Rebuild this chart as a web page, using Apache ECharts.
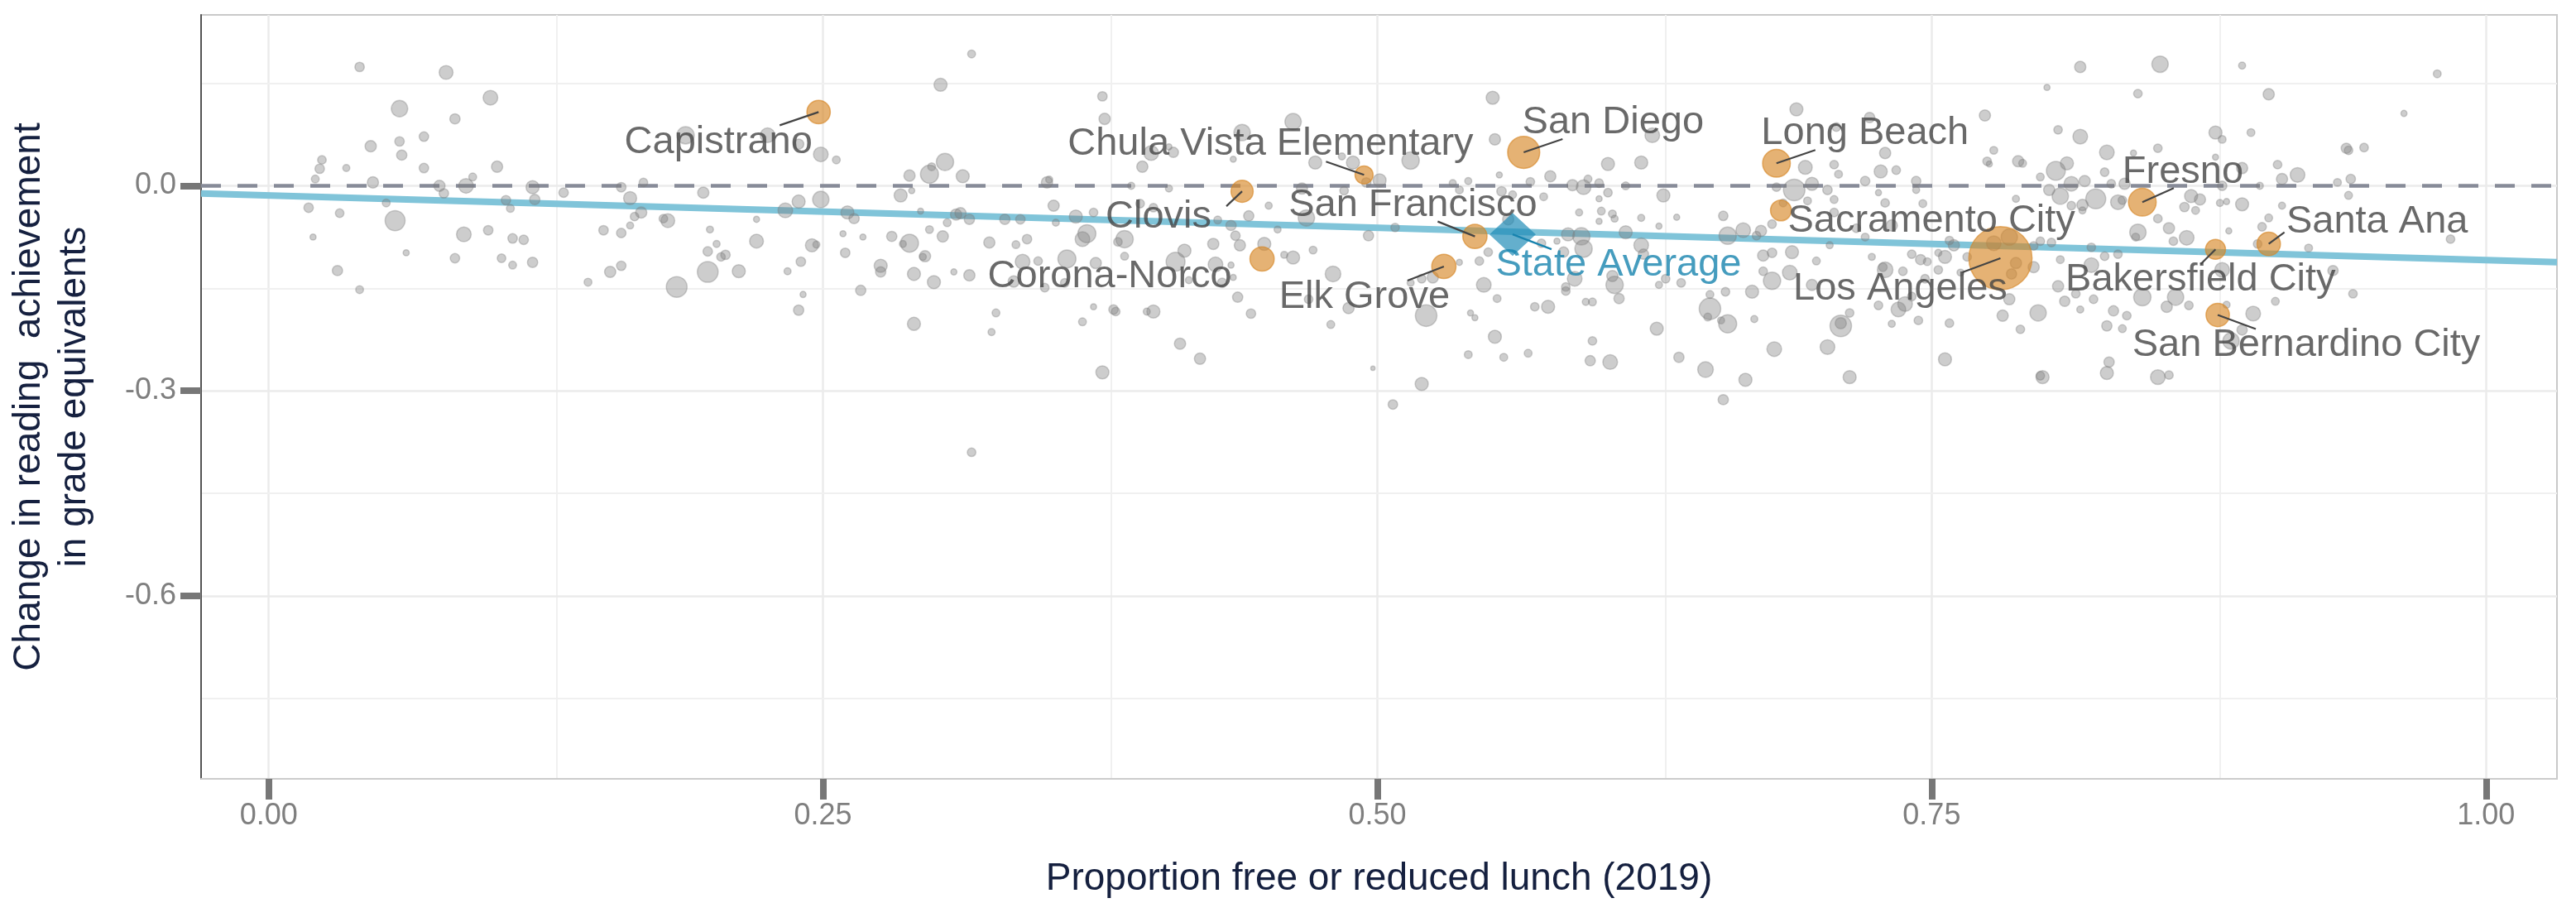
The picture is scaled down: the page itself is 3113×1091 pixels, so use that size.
<!DOCTYPE html>
<html lang="en">

<head>
    <meta charset="UTF-8">
    <title>Reading change vs free lunch</title>
    <script src="https://cdn.jsdelivr.net/npm/echarts@6.0.0/dist/echarts.min.js"></script>
    <style>
        body { margin: 0; background: #fff; }
    </style>
</head>

<body>
    <div id="main" style="width:3113px; height:1091px;"></div>
    <script type="text/javascript">
        var myChart = echarts.init(document.getElementById('main'));

        var font = 'Liberation Sans, Arial, sans-serif';

        // axis ticks and gridlines
        var xTicks = [0, 0.25, 0.5, 0.75, 1];
        var xMinor = [0.125, 0.375, 0.625, 0.875];
        var yTicks = [-0.6, -0.3, 0];
        var yMinor = [-0.75, -0.45, -0.15, 0.15];

        // fitted line, read at the panel edges
        var fitLine = [[-0.0305, -0.0113], [1.032, -0.1116]];

        // state average
        var stateAvg = [0.561, -0.071];

        // highlighted districts: name, free lunch share, change, enrollment (thousands)
        var named = [
            ['Capistrano', 0.248, 0.108, 67],
            ['Chula Vista Elementary', 0.494, 0.016, 40],
            ['Clovis', 0.439, -0.008, 60],
            ['San Francisco', 0.544, -0.074, 72],
            ['Corona-Norco', 0.448, -0.107, 72],
            ['Elk Grove', 0.530, -0.118, 72],
            ['San Diego', 0.566, 0.049, 126],
            ['Long Beach', 0.680, 0.033, 94],
            ['Sacramento City', 0.682, -0.036, 53],
            ['Los Angeles', 0.781, -0.106, 490],
            ['Fresno', 0.845, -0.024, 94],
            ['Santa Ana', 0.902, -0.085, 67],
            ['Bakersfield City', 0.878, -0.093, 49],
            ['San Bernardino City', 0.879, -0.189, 67]
        ];

        // all other districts: [free lunch share, change, enrollment (thousands)]
        var others = [
            [0.041,0.174,11],[0.080,0.166,23.5],[0.059,0.113,33],[0.100,0.129,26.5],[0.084,0.098,13],[0.046,0.058,15.5],[0.059,0.065,11],[0.060,0.045,13],[0.070,0.072,11],[0.024,0.038,9],[0.023,0.025,11],[0.035,0.026,6],[0.021,0.010,7.5],[0.070,0.026,11],[0.103,0.028,15.5],[0.047,0.005,15.5],[0.077,0.000,15.5],[0.079,-0.011,11],[0.089,0.000,26.5],[0.092,0.013,7.5],[0.119,-0.002,21],[0.120,-0.020,13],[0.107,-0.021,11],[0.109,-0.033,7.5],[0.133,-0.010,11],[0.018,-0.032,11],[0.032,-0.040,9],[0.053,-0.025,7.5],[0.057,-0.051,49],[0.020,-0.075,4.5],[0.088,-0.071,26.5],[0.099,-0.065,11],[0.110,-0.077,11],[0.115,-0.079,11],[0.062,-0.098,4.5],[0.084,-0.106,11],[0.105,-0.106,9],[0.110,-0.116,7.5],[0.119,-0.112,13],[0.031,-0.124,13],[0.041,-0.152,7.5],[0.151,-0.065,11],[0.159,-0.069,11],[0.163,-0.058,6],[0.165,-0.045,9],[0.159,-0.002,11],[0.163,-0.018,21],[0.154,-0.126,15.5],[0.159,-0.117,11],[0.144,-0.141,7.5],[0.169,0.005,9],[0.168,-0.039,15.5],
            [0.317,0.193,7.5],[0.303,0.148,21],[0.188,0.074,37],[0.225,0.074,26.5],[0.249,0.046,26.5],[0.256,0.038,7.5],[0.239,0.061,13],[0.196,-0.010,15.5],[0.239,-0.023,21],[0.249,-0.020,33],[0.233,-0.036,26.5],[0.180,-0.051,23.5],[0.178,-0.048,9],[0.220,-0.049,4.5],[0.199,-0.064,6],[0.202,-0.085,6],[0.220,-0.081,23.5],[0.198,-0.096,11],[0.204,-0.104,9],[0.206,-0.101,11],[0.198,-0.126,53],[0.212,-0.125,21],[0.184,-0.148,53],[0.245,-0.087,21],[0.247,-0.086,6],[0.240,-0.111,11],[0.234,-0.125,6],[0.241,-0.159,4.5],[0.239,-0.182,13],[0.261,-0.039,21],[0.264,-0.048,13],[0.259,-0.070,4.5],[0.268,-0.075,4.5],[0.260,-0.098,11],[0.267,-0.153,13],[0.289,0.015,15.5],[0.298,0.017,40],[0.305,0.035,37],[0.299,0.028,7.5],[0.313,0.014,21],[0.285,-0.014,21],[0.290,-0.007,4.5],[0.294,-0.037,4.5],[0.298,-0.064,7.5],[0.306,-0.054,7.5],[0.304,-0.074,15.5],[0.310,-0.042,15.5],[0.312,-0.040,15.5],[0.316,-0.049,13],[0.281,-0.074,13],[0.289,-0.084,40],[0.286,-0.085,6],[0.296,-0.103,15.5],[0.295,-0.104,6],[0.276,-0.117,21],[0.276,-0.126,13],[0.291,-0.129,21],[0.300,-0.141,21],[0.309,-0.126,4.5],[0.316,-0.131,15.5],[0.291,-0.202,21],[0.325,-0.083,15.5],[0.328,-0.186,7.5],[0.326,-0.214,6],[0.317,-0.390,9],[0.332,-0.049,13],
            [0.376,0.131,11],[0.377,0.098,15.5],[0.462,0.094,33],[0.439,0.078,33],[0.398,0.048,26.5],[0.408,0.049,13],[0.406,0.057,4.5],[0.394,0.028,15.5],[0.435,0.039,4.5],[0.472,0.034,21],[0.489,0.034,21],[0.484,0.043,6],[0.351,0.005,15.5],[0.352,0.009,6],[0.389,0.000,6],[0.406,-0.004,6],[0.466,-0.004,15.5],[0.485,-0.007,9],[0.495,0.005,11],[0.354,-0.029,15.5],[0.372,-0.039,9],[0.364,-0.045,21],[0.339,-0.049,11],[0.355,-0.054,6],[0.393,-0.026,9],[0.399,-0.032,9],[0.451,-0.029,6],[0.442,-0.044,13],[0.428,-0.050,7.5],[0.434,-0.058,13],[0.455,-0.064,6],[0.468,-0.047,33],[0.496,-0.073,13],[0.342,-0.078,11],[0.337,-0.086,7.5],[0.369,-0.070,40],[0.367,-0.078,26.5],[0.386,-0.078,37],[0.383,-0.082,9],[0.426,-0.085,15.5],[0.436,-0.073,11],[0.438,-0.087,15.5],[0.449,-0.085,21],[0.458,-0.101,6],[0.462,-0.105,21],[0.471,-0.094,7.5],[0.360,-0.107,40],[0.340,-0.111,26.5],[0.347,-0.110,9],[0.373,-0.113,15.5],[0.386,-0.103,7.5],[0.409,-0.111,44],[0.413,-0.095,21],[0.427,-0.115,26.5],[0.434,-0.116,4.5],[0.480,-0.129,30],[0.350,-0.149,9],[0.336,-0.140,15.5],[0.359,-0.142,9],[0.430,-0.142,11],[0.435,-0.134,4.5],[0.415,-0.138,6],[0.437,-0.163,13],[0.443,-0.187,11],[0.372,-0.177,4.5],[0.381,-0.181,11],[0.382,-0.184,9],[0.399,-0.184,21],[0.396,-0.184,6],[0.367,-0.199,7.5],[0.479,-0.203,7.5],[0.487,-0.179,15.5],[0.469,-0.166,9],[0.411,-0.231,15.5],[0.420,-0.253,15.5],[0.376,-0.273,21],[0.498,-0.267,2.3],
            [0.552,0.129,21],[0.553,0.068,15.5],[0.515,0.037,37],[0.604,0.032,21],[0.619,0.034,21],[0.624,0.074,26.5],[0.555,0.016,4.5],[0.578,0.014,15.5],[0.569,0.006,9],[0.501,0.008,21],[0.534,0.004,6],[0.541,0.007,6],[0.537,-0.006,7.5],[0.556,-0.008,11],[0.561,-0.013,7.5],[0.575,-0.016,7.5],[0.588,0.001,15.5],[0.593,-0.002,26.5],[0.595,0.010,7.5],[0.600,0.004,9],[0.604,-0.010,9],[0.600,-0.019,4.5],[0.612,0.000,7.5],[0.629,-0.014,21],[0.591,-0.039,6],[0.601,-0.037,7.5],[0.606,-0.041,7.5],[0.607,-0.048,6],[0.600,-0.052,4.5],[0.619,-0.047,6],[0.635,-0.046,4.5],[0.627,-0.059,4.5],[0.656,-0.044,11],[0.508,-0.061,9],[0.559,-0.049,15.5],[0.586,-0.071,21],[0.592,-0.074,37],[0.593,-0.092,37],[0.612,-0.068,21],[0.619,-0.087,26.5],[0.620,-0.100,13],[0.658,-0.073,37],[0.581,-0.081,4.5],[0.574,-0.084,9],[0.550,-0.097,9],[0.546,-0.110,9],[0.584,-0.097,13],[0.537,-0.112,4.5],[0.525,-0.134,15.5],[0.520,-0.136,9],[0.515,-0.142,6],[0.548,-0.145,26.5],[0.554,-0.165,7.5],[0.522,-0.190,57],[0.542,-0.186,4.5],[0.544,-0.193,4.5],[0.571,-0.177,9],[0.577,-0.177,21],[0.585,-0.148,9],[0.585,-0.154,9],[0.589,-0.136,26.5],[0.594,-0.170,6],[0.597,-0.170,7.5],[0.607,-0.145,37],[0.606,-0.132,15.5],[0.609,-0.165,13],[0.627,-0.145,6],[0.630,-0.136,9],[0.637,-0.142,9],[0.650,-0.159,7.5],[0.650,-0.180,57],[0.649,-0.192,7.5],[0.655,-0.197,6],[0.658,-0.202,40],[0.657,-0.155,9],[0.626,-0.209,21],[0.553,-0.221,21],[0.541,-0.247,7.5],[0.557,-0.251,7.5],[0.568,-0.245,7.5],[0.597,-0.227,9],[0.596,-0.256,13],[0.605,-0.258,26.5],[0.636,-0.251,13],[0.648,-0.269,30],[0.520,-0.290,21],[0.507,-0.320,11],[0.656,-0.313,13],
            [0.817,0.174,15.5],[0.802,0.144,4.5],[0.689,0.112,21],[0.774,0.103,15.5],[0.722,0.100,13],[0.807,0.082,9],[0.817,0.072,26.5],[0.707,0.086,9],[0.693,0.027,23.5],[0.706,0.031,9],[0.708,0.017,7.5],[0.729,0.048,15.5],[0.727,0.021,21],[0.734,0.023,9],[0.778,0.052,7.5],[0.775,0.036,9],[0.776,0.032,4.5],[0.789,0.036,15.5],[0.791,0.033,7.5],[0.806,0.022,44],[0.811,0.033,21],[0.799,0.013,7.5],[0.688,-0.006,57],[0.696,0.003,21],[0.703,-0.006,11],[0.720,0.007,11],[0.743,0.007,11],[0.743,-0.006,6],[0.680,-0.002,9],[0.726,-0.010,4.5],[0.706,-0.020,7.5],[0.694,-0.022,7.5],[0.683,-0.025,7.5],[0.729,-0.025,9],[0.746,-0.026,7.5],[0.788,-0.019,6],[0.803,-0.006,15.5],[0.808,-0.015,33],[0.813,0.003,26.5],[0.819,0.007,15.5],[0.818,-0.028,15.5],[0.824,-0.019,49],[0.813,-0.029,9],[0.818,-0.036,6],[0.665,-0.065,26.5],[0.673,-0.066,15.5],[0.678,-0.056,9],[0.671,-0.073,9],[0.706,-0.039,9],[0.720,-0.075,7.5],[0.704,-0.087,6],[0.716,-0.062,9],[0.732,-0.058,15.5],[0.758,-0.080,9],[0.760,-0.087,15.5],[0.753,-0.098,6],[0.778,-0.084,26.5],[0.785,-0.075,33],[0.788,-0.113,15.5],[0.786,-0.129,13],[0.796,-0.088,9],[0.799,-0.081,9],[0.804,-0.083,9],[0.808,-0.108,7.5],[0.822,-0.090,9],[0.796,-0.119,15.5],[0.822,-0.116,26.5],[0.674,-0.102,15.5],[0.678,-0.098,11],[0.687,-0.097,21],[0.698,-0.110,7.5],[0.723,-0.104,6],[0.741,-0.100,9],[0.745,-0.108,13],[0.748,-0.111,7.5],[0.756,-0.104,21],[0.766,-0.104,9],[0.678,-0.139,37],[0.674,-0.125,9],[0.686,-0.127,26.5],[0.669,-0.155,21],[0.696,-0.145,15.5],[0.728,-0.119,9],[0.729,-0.123,30],[0.737,-0.125,9],[0.747,-0.136,9],[0.753,-0.123,9],[0.763,-0.127,6],[0.807,-0.147,15.5],[0.810,-0.169,13],[0.817,-0.181,6],[0.815,-0.158,9],[0.823,-0.166,9],[0.735,-0.181,26.5],[0.738,-0.173,26.5],[0.741,-0.162,9],[0.726,-0.175,9],[0.785,-0.166,15.5],[0.782,-0.190,15.5],[0.798,-0.186,33],[0.790,-0.210,9],[0.758,-0.201,9],[0.744,-0.197,9],[0.732,-0.202,6],[0.713,-0.186,9],[0.709,-0.205,57],[0.709,-0.201,15.5],[0.670,-0.195,6],[0.679,-0.239,26.5],[0.703,-0.236,26.5],[0.756,-0.254,21],[0.666,-0.284,21],[0.713,-0.280,21],[0.800,-0.280,21],[0.799,-0.278,9],
            [0.853,0.178,33],[0.890,0.176,6],[0.978,0.164,7.5],[0.843,0.135,9],[0.902,0.134,15.5],[0.963,0.106,4.5],[0.878,0.078,21],[0.881,0.068,7.5],[0.894,0.078,7.5],[0.829,0.049,26.5],[0.852,0.055,9],[0.841,0.048,4.5],[0.878,0.042,4.5],[0.906,0.031,9],[0.890,0.026,15.5],[0.915,0.016,26.5],[0.908,0.010,15.5],[0.937,0.055,13],[0.938,0.052,9],[0.945,0.056,9],[0.933,0.005,7.5],[0.939,0.010,11],[0.938,-0.014,7.5],[0.898,0.000,6],[0.881,0.000,11],[0.828,0.020,9],[0.837,0.003,15.5],[0.831,0.003,9],[0.834,-0.024,26.5],[0.836,-0.021,9],[0.867,-0.015,21],[0.871,-0.020,15.5],[0.864,-0.031,11],[0.869,-0.036,7.5],[0.880,-0.025,6],[0.883,-0.023,4.5],[0.890,-0.027,21],[0.908,-0.029,6],[0.902,-0.047,7.5],[0.899,-0.060,9],[0.852,-0.048,9],[0.857,-0.062,15.5],[0.843,-0.068,33],[0.842,-0.075,7.5],[0.859,-0.081,9],[0.865,-0.076,26.5],[0.884,-0.066,4.5],[0.897,-0.085,9],[0.920,-0.091,7.5],[0.984,-0.078,9],[0.828,-0.103,9],[0.834,-0.100,9],[0.881,-0.123,26.5],[0.931,-0.124,13],[0.845,-0.163,37],[0.860,-0.163,33],[0.856,-0.177,15.5],[0.866,-0.175,9],[0.832,-0.183,13],[0.838,-0.190,9],[0.829,-0.205,13],[0.836,-0.209,7.5],[0.940,-0.158,9],[0.905,-0.169,7.5],[0.883,-0.174,6],[0.895,-0.187,26.5],[0.890,-0.211,13],[0.885,-0.227,33],[0.830,-0.258,13],[0.829,-0.274,21],[0.852,-0.280,26.5],[0.857,-0.277,9]
        ];

        // label placement (pixel offset of label centre from the point)
        var labelOffset = {
            'Capistrano': [-121, 37],
            'Chula Vista Elementary': [-113, -37],
            'Clovis': [-101, 31],
            'San Francisco': [-75, -38],
            'Corona-Norco': [-184, 21],
            'Elk Grove': [-96, 37],
            'San Diego': [108, -36],
            'Long Beach': [107, -36],
            'Sacramento City': [182, 13],
            'Los Angeles': [-121, 37],
            'Fresno': [49, -36],
            'Santa Ana': [131, -27],
            'Bakersfield City': [-18, 37],
            'San Bernardino City': [107, 37],
            'State Average': [128, 37]
        };

        // leader segments (pixel offset of the far end from the point)
        var segmentEnd = {
            'Capistrano': [-47, 16],
            'Chula Vista Elementary': [-46, -16],
            'Clovis': [-19, 18],
            'San Francisco': [-45, -18],
            'Elk Grove': [-44, 17],
            'San Diego': [47, -16],
            'Long Beach': [47, -16],
            'Los Angeles': [-46, 17],
            'Fresno': [38, -17],
            'Santa Ana': [19, -14],
            'Bakersfield City': [-18, 18],
            'San Bernardino City': [46, 17],
            'State Average': [47, 18]
        };

        // area scale for enrollment
        function dotSize(v) {
            return 3.45 * Math.sqrt(v[2]);
        }

        var gridLines = [];
        xTicks.forEach(function (v) {
            gridLines.push({ xAxis: v, lineStyle: { color: '#ebebeb', width: 2.5, type: 'solid' } });
        });
        xMinor.forEach(function (v) {
            gridLines.push({ xAxis: v, lineStyle: { color: '#f0f0f0', width: 2, type: 'solid' } });
        });
        yTicks.forEach(function (v) {
            gridLines.push({ yAxis: v, lineStyle: { color: '#ebebeb', width: 2.5, type: 'solid' } });
        });
        yMinor.forEach(function (v) {
            gridLines.push({ yAxis: v, lineStyle: { color: '#f0f0f0', width: 2, type: 'solid' } });
        });

        var namedData = named.map(function (d) {
            return { name: d[0], value: [d[1], d[2], d[3]] };
        });
        var segmentData = namedData.concat([{ name: 'State Average', value: stateAvg }]);

        myChart.setOption({
            backgroundColor: '#ffffff',
            animation: false,
            grid: {
                left: 243,
                right: 23,
                top: 18,
                bottom: 150,
                show: true,
                borderColor: '#c9c9c9',
                borderWidth: 2,
                backgroundColor: 'transparent'
            },
            xAxis: {
                type: 'value',
                min: -0.0305,
                max: 1.032,
                name: 'Proportion free or reduced lunch (2019)',
                nameLocation: 'middle',
                nameGap: 98,
                nameTextStyle: { fontSize: 46, color: '#15203f', fontFamily: font },
                axisLine: { show: true, onZero: false, lineStyle: { color: '#cccccc', width: 2 } },
                axisTick: { show: true, customValues: xTicks, length: 25, lineStyle: { color: '#777777', width: 8 } },
                axisLabel: {
                    customValues: xTicks,
                    margin: 27,
                    fontSize: 36,
                    color: '#7f7f7f',
                    fontFamily: font,
                    formatter: function (v) { return v.toFixed(2); }
                },
                splitLine: { show: false }
            },
            yAxis: {
                type: 'value',
                min: -0.868,
                max: 0.2502,
                name: 'Change in reading  achievement\nin grade equivalents',
                nameLocation: 'middle',
                nameRotate: 90,
                nameGap: 125,
                nameTextStyle: { fontSize: 46, lineHeight: 55, color: '#15203f', fontFamily: font, align: 'center' },
                axisLine: { show: true, onZero: false, lineStyle: { color: '#555555', width: 2 } },
                axisTick: { show: true, customValues: yTicks, length: 25, lineStyle: { color: '#777777', width: 8 } },
                axisLabel: {
                    customValues: yTicks,
                    margin: 30,
                    fontSize: 36,
                    color: '#7f7f7f',
                    fontFamily: font,
                    formatter: function (v) { return v.toFixed(1); }
                },
                splitLine: { show: false }
            },
            series: [
                {
                    name: 'grid',
                    type: 'line',
                    data: [],
                    silent: true,
                    markLine: {
                        silent: true,
                        z: 0,
                        symbol: ['none', 'none'],
                        label: { show: false },
                        animation: false,
                        data: gridLines
                    }
                },
                {
                    name: 'fit',
                    type: 'line',
                    z: 1,
                    data: fitLine,
                    showSymbol: false,
                    silent: true,
                    lineStyle: { color: '#80c4d9', width: 8 },
                    markLine: {
                        silent: true,
                        z: 1,
                        symbol: ['none', 'none'],
                        label: { show: false },
                        animation: false,
                        data: [{ yAxis: 0, lineStyle: { color: '#878b98', width: 4.5, type: [24, 20] } }]
                    }
                },
                {
                    name: 'districts',
                    type: 'scatter',
                    z: 2,
                    silent: true,
                    data: others,
                    symbolSize: dotSize,
                    itemStyle: {
                        color: 'rgba(125,125,125,0.48)',
                        borderColor: 'rgba(125,125,125,0.45)',
                        borderWidth: 1.5
                    }
                },
                {
                    name: 'named',
                    type: 'scatter',
                    z: 3,
                    silent: true,
                    data: namedData,
                    symbolSize: dotSize,
                    itemStyle: {
                        color: 'rgba(214,134,38,0.8)',
                        borderColor: 'rgba(214,134,38,0.8)',
                        borderWidth: 1.5
                    },
                    label: {
                        show: true,
                        position: 'inside',
                        formatter: '{b}',
                        fontSize: 47,
                        color: '#444444',
                        fontFamily: font
                    },
                    labelLayout: function (params) {
                        var o = labelOffset[namedData[params.dataIndex].name];
                        return { dx: o[0], dy: o[1] };
                    }
                },
                {
                    name: 'State Average',
                    type: 'scatter',
                    z: 4,
                    silent: true,
                    data: [{ name: 'State Average', value: stateAvg }],
                    symbol: 'diamond',
                    symbolSize: [56, 52],
                    itemStyle: { color: 'rgba(28,138,182,0.85)' },
                    label: {
                        show: true,
                        position: 'inside',
                        formatter: '{b}',
                        fontSize: 47,
                        color: '#1783ae',
                        fontFamily: font
                    },
                    labelLayout: function () {
                        var o = labelOffset['State Average'];
                        return { dx: o[0], dy: o[1] };
                    }
                },
                {
                    name: 'segments',
                    type: 'custom',
                    z: 5,
                    silent: true,
                    data: segmentData,
                    renderItem: function (params, api) {
                        var item = segmentData[params.dataIndex];
                        var o = segmentEnd[item.name];
                        if (!o) {
                            return null;
                        }
                        var p = api.coord([api.value(0), api.value(1)]);
                        return {
                            type: 'line',
                            shape: { x1: p[0], y1: p[1], x2: p[0] + o[0], y2: p[1] + o[1] },
                            style: {
                                stroke: item.name === 'State Average' ? '#1783ae' : '#444444',
                                lineWidth: 2.2
                            }
                        };
                    }
                }
            ]
        });
    </script>

</body>

</html>
